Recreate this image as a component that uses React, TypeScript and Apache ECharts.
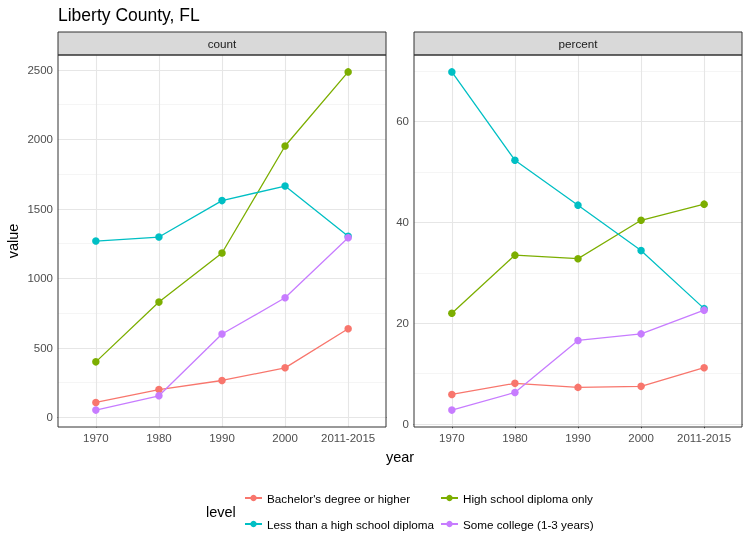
import React, { useEffect, useRef } from "react";
import * as echarts from "echarts";

const years = ["1970", "1980", "1990", "2000", "2011-2015"];
const levels = [
  "Bachelor's degree or higher",
  "High school diploma only",
  "Less than a high school diploma",
  "Some college (1-3 years)",
];
const colors = ["#F8766D", "#7CAE00", "#00BFC4", "#C77CFF"];

const countBachelor = [108, 201, 266, 357, 638];
const countHighSchool = [400, 830, 1183, 1953, 2486];
const countLessHS = [1269, 1298, 1560, 1665, 1303];
const countSomeCollege = [53, 156, 600, 861, 1293];

const pctBachelor = [5.9, 8.1, 7.3, 7.5, 11.2];
const pctHighSchool = [22.0, 33.5, 32.8, 40.4, 43.6];
const pctLessHS = [69.8, 52.3, 43.4, 34.4, 22.9];
const pctSomeCollege = [2.8, 6.3, 16.6, 17.9, 22.6];

const countTicks = [0, 500, 1000, 1500, 2000, 2500];
const countMinor = [250, 750, 1250, 1750, 2250];
const pctTicks = [0, 20, 40, 60];
const pctMinor = [10, 30, 50, 70];

const FONT = "'Liberation Sans', Arial, Helvetica, sans-serif";

function expand(arrs: number[][]): [number, number] {
  const all = arrs.flat();
  const lo = Math.min(...all);
  const hi = Math.max(...all);
  const r = hi - lo;
  return [lo - 0.05 * r, hi + 0.05 * r];
}

const PANELS = [
  { left: 58, top: 55, width: 328, height: 372, label: "count" },
  { left: 414, top: 55, width: 328, height: 372, label: "percent" },
];

export default function App() {
  const ref = useRef<HTMLDivElement>(null);
  useEffect(() => {
    if (!ref.current) return;
    const chart = echarts.init(ref.current, null, { renderer: "svg" });
    const countSets = [countBachelor, countHighSchool, countLessHS, countSomeCollege];
    const pctSets = [pctBachelor, pctHighSchool, pctLessHS, pctSomeCollege];
    const countRange = expand(countSets);
    const pctRange = expand(pctSets);
    const xIdx = years.map((_, i) => i);

    const xAxisBase = (gridIndex: number) => ({
      type: "value",
      gridIndex,
      min: -0.6,
      max: years.length - 1 + 0.6,
      splitLine: { show: false },
      axisLine: { show: true, lineStyle: { color: "#333333", width: 1 } },
      axisTick: { show: true, length: 4, customValues: xIdx, lineStyle: { color: "#333333", width: 1 } },
      axisLabel: {
        customValues: xIdx,
        formatter: (v: number) => years[Math.round(v)] ?? "",
        color: "#4D4D4D",
        fontSize: 11.5,
        fontFamily: FONT,
        margin: 5,
      },
    });
    const yAxisBase = (gridIndex: number, range: [number, number], ticks: number[]) => ({
      type: "value",
      gridIndex,
      min: range[0],
      max: range[1],
      splitLine: { show: false },
      axisLine: { show: true, lineStyle: { color: "#333333", width: 1 } },
      axisTick: { show: true, length: 4, customValues: ticks, lineStyle: { color: "#333333", width: 1 } },
      axisLabel: {
        customValues: ticks,
        formatter: (v: number) => String(Math.round(v)),
        color: "#4D4D4D",
        fontSize: 11.5,
        fontFamily: FONT,
        margin: 5,
      },
    });

    const gridSeries = (idx: number, major: number[], minor: number[]) => ({
      type: "line",
      xAxisIndex: idx,
      yAxisIndex: idx,
      data: [],
      silent: true,
      z: 1,
      markLine: {
        silent: true,
        animation: false,
        symbol: ["none", "none"],
        label: { show: false },
        z: 1,
        lineStyle: { color: "#EBEBEB", type: "solid", width: 1 },
        emphasis: { disabled: true },
        data: [
          ...minor.map((v) => ({ yAxis: v, lineStyle: { color: "#F0F0F0", type: "solid", width: 0.7 } })),
          ...major.map((v) => ({ yAxis: v, lineStyle: { color: "#E6E6E6", type: "solid", width: 1.1 } })),
          ...xIdx.map((v) => ({ xAxis: v, lineStyle: { color: "#E6E6E6", type: "solid", width: 1.1 } })),
        ],
      },
    });

    const dataSeries = (idx: number, sets: number[][]) =>
      sets.map((arr, k) => ({
        type: "line",
        name: levels[k],
        xAxisIndex: idx,
        yAxisIndex: idx,
        data: arr.map((v, i) => [i, v]),
        symbol: "circle",
        symbolSize: 7.5,
        itemStyle: { color: colors[k] },
        lineStyle: { color: colors[k], width: 1.3 },
        z: 3,
      }));

    const graphics: any[] = [];
    PANELS.forEach((p) => {
      graphics.push({
        type: "rect",
        shape: { x: p.left, y: p.top - 23, width: p.width, height: 23 },
        style: { fill: "#D9D9D9", stroke: "#333333", lineWidth: 1 },
        z: 100,
      });
      graphics.push({
        type: "text",
        x: p.left + p.width / 2,
        y: p.top - 11.5,
        style: {
          text: p.label,
          fill: "#1A1A1A",
          font: `11.7px ${FONT}`,
          align: "center",
          verticalAlign: "middle",
        },
        z: 101,
      });
      graphics.push({
        type: "rect",
        shape: { x: p.left, y: p.top, width: p.width, height: p.height },
        style: { fill: "none", stroke: "#333333", lineWidth: 1 },
        z: 100,
        silent: true,
      });
    });
    graphics.push({
      type: "text",
      x: 58,
      y: 14.5,
      style: { text: "Liberty County, FL", fill: "#000000", font: `17.5px ${FONT}`, verticalAlign: "middle" },
    });
    graphics.push({
      type: "text",
      x: 13,
      y: 241,
      rotation: Math.PI / 2,
      style: { text: "value", fill: "#000000", font: `14.5px ${FONT}`, align: "center", verticalAlign: "middle" },
    });
    graphics.push({
      type: "text",
      x: 400,
      y: 457,
      style: { text: "year", fill: "#000000", font: `14.5px ${FONT}`, align: "center", verticalAlign: "middle" },
    });
    graphics.push({
      type: "text",
      x: 206,
      y: 512,
      style: { text: "level", fill: "#000000", font: `14.5px ${FONT}`, verticalAlign: "middle" },
    });

    const legendBase = {
      orient: "vertical",
      top: 492,
      padding: 0,
      itemGap: 14,
      itemWidth: 17,
      itemHeight: 8,
      textStyle: { color: "#000000", fontSize: 11.7, fontFamily: FONT },
      selectedMode: false,
    };

    chart.setOption({
      animation: false,
      grid: PANELS.map((p) => ({
        left: p.left,
        top: p.top,
        width: p.width,
        height: p.height,
        containLabel: false,
        show: true,
        backgroundColor: "#FFFFFF",
        borderWidth: 0,
      })),
      xAxis: [xAxisBase(0), xAxisBase(1)],
      yAxis: [yAxisBase(0, countRange, countTicks), yAxisBase(1, pctRange, pctTicks)],
      legend: [
        { ...legendBase, left: 244, data: [levels[0], levels[2]] },
        { ...legendBase, left: 440, data: [levels[1], levels[3]] },
      ],
      series: [
        gridSeries(0, countTicks, countMinor),
        gridSeries(1, pctTicks, pctMinor),
        ...dataSeries(0, countSets),
        ...dataSeries(1, pctSets),
      ],
      graphic: graphics,
    });
    return () => chart.dispose();
  }, []);
  return <div ref={ref} style={{ position: "fixed", left: 0, top: 0, width: 750, height: 550 }} />;
}
